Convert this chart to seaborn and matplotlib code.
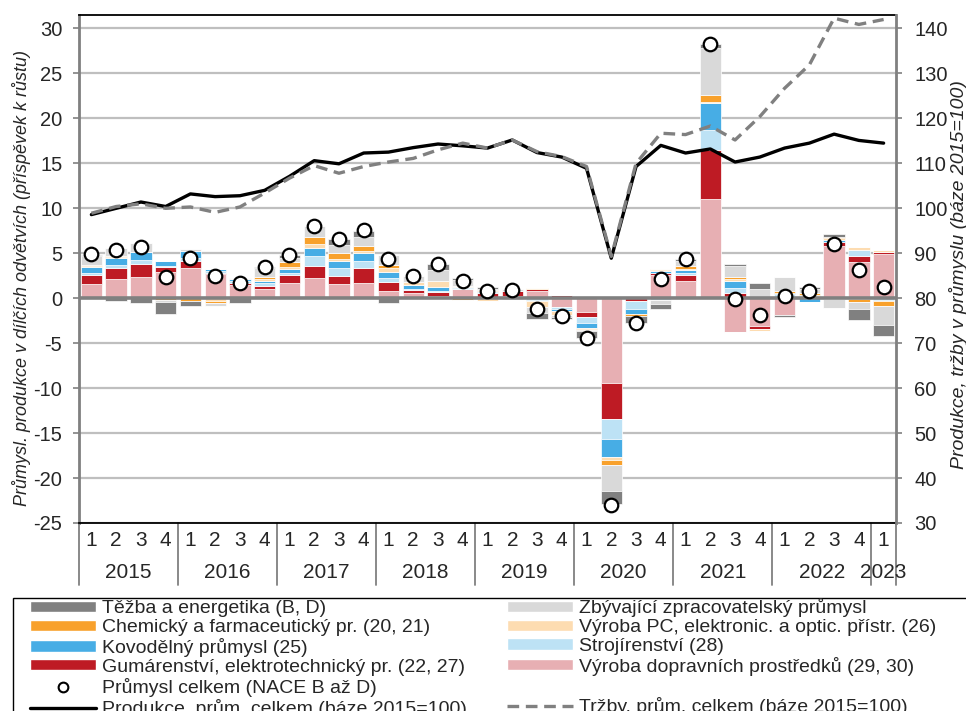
import matplotlib
matplotlib.use("Agg")
import matplotlib.pyplot as plt
import matplotlib.transforms as mtransforms
from matplotlib.patches import Patch, Rectangle
from matplotlib.lines import Line2D
import seaborn as sns
import numpy as np

# quarters 2015Q1 .. 2023Q1
years = ["2015", "2016", "2017", "2018", "2019", "2020", "2021", "2022", "2023"]
quarters = ["1", "2", "3", "4"] * 8 + ["1"]

# contributions to growth (p.p.), stacked bottom -> top
doprava = [1.55, 2.1, 2.4, 2.93, 3.4, 2.7, 1.48, 1.05, 1.74, 2.2, 1.63, 1.7, 0.8, 0.55, 0.3, 1.0,
           0.15, 0.2, 0.8, -1.0, -1.52, -9.44, 0.05, 2.55, 1.93, 11.0, -3.74, -3.1, -1.9, 0.05,
           5.85, 4.04, 4.9]
gumarenstvi = [1.0, 1.26, 1.37, 0.55, 0.74, 0.15, 0.22, 0.35, 0.81, 1.4, 0.8, 1.63, 0.96, 0.33,
               0.44, 0.05, 0.4, 0.6, 0.2, 0.35, -0.52, -4.0, -0.35, 0.3, 0.63, 5.48, 0.55,
               -0.37, 0.0, 0.2, 0.45, 0.67, 0.2]
strojirenstvi = [0.3, 0.33, 0.44, 0.07, 0.3, 0.15, 0.22, 0.3, 0.26, 1.07, 0.9, 0.8, 0.48, 0.19,
                 0.1, 0.1, 0.1, 0.0, -0.18, -0.15, -0.74, -2.22, -0.85, -0.25, 0.22, 2.19, 0.63,
                 0.0, 0.45, 0.05, -0.1, 0.66, -0.25]
kovodelny = [0.65, 0.74, 0.9, 0.6, 0.8, 0.2, 0.18, 0.25, 0.44, 0.96, 0.85, 0.9, 0.7, 0.44, 0.4,
             0.1, 0.15, 0.0, -0.15, -0.3, -0.55, -2.04, -0.5, 0.15, 0.37, 3.0, 0.74, 0.0, 0.1,
             -0.4, 0.15, -0.1, -0.05]
vyroba_pc = [0.1, 0.15, 0.0, 0.0, 0.0, -0.3, 0.0, 0.2, 0.19, 0.37, 0.2, 0.2, 0.37, 0.26, 0.67,
             0.15, -0.35, 0.0, -0.6, -0.4, -0.1, -0.26, -0.05, 0.1, 0.15, 0.15, 0.18, -0.2,
             0.05, 0.1, 0.2, 0.37, 0.3]
chemicky = [0.05, 0.15, 0.0, -0.25, -0.3, -0.2, 0.0, 0.2, 0.55, 0.81, 0.6, 0.56, 0.37, 0.0, 0.0,
            -0.2, 0.1, 0.0, 0.15, 0.0, -0.1, -0.55, -0.2, 0.2, 0.3, 0.74, 0.3, 0.05, 0.2, 0.15,
            0.15, -0.3, -0.6]
zbyvajici = [1.1, 0.9, 1.07, -0.15, 0.25, -0.35, 0.2, 1.0, 0.52, 1.25, 0.9, 1.0, 1.1, 0.7, 1.2,
             0.6, 0.15, 0.25, -0.74, -0.2, -0.15, -2.9, -0.05, -0.35, 0.52, 5.3, 1.18, 0.95,
             1.57, 0.5, -0.95, -0.75, -2.1]
tezba = [0.1, -0.3, -0.55, -1.3, -0.6, 0.07, -0.55, 0.15, 0.3, 0.0, 0.74, 0.74, -0.5, 0.0, 0.67,
         0.2, 0.15, -0.1, -0.63, -0.3, -0.74, -1.48, -0.75, -0.6, 0.22, 0.44, 0.18, 0.74, -0.2,
         0.2, 0.3, -1.3, -1.15]
prumysl_celkem = [4.9, 5.33, 5.67, 2.4, 4.5, 2.5, 1.67, 3.5, 4.78, 8.04, 6.63, 7.55, 4.33, 2.48,
                  3.78, 1.9, 0.85, 0.95, -1.15, -1.96, -4.37, -22.96, -2.78, 2.18, 4.33, 28.3,
                  -0.07, -1.89, 0.27, 0.8, 6.07, 3.15, 1.3]

# indices (2015=100)
produkce = [98.6, 100.0, 101.4, 100.4, 103.2, 102.6, 102.8, 104.0, 107.1, 110.6, 109.9, 112.3,
            112.5, 113.5, 114.3, 113.9, 113.4, 115.2, 112.4, 111.4, 108.9, 88.9, 109.3, 114.0,
            112.3, 113.2, 110.3, 111.4, 113.4, 114.5, 116.5, 115.1, 114.5]
trzby = [98.9, 100.4, 101.0, 100.0, 100.3, 99.1, 100.3, 103.4, 106.7, 109.5, 107.8, 109.3, 110.3,
         111.1, 113.0, 114.5, 113.4, 115.2, 112.6, 111.5, 109.3, 89.3, 110.0, 116.7, 116.4,
         118.3, 115.2, 120.4, 126.7, 131.9, 142.3, 140.9, 142.0]

series = [
    ("Výroba dopravních prostředků (29, 30)", doprava, "#e7afb3"),
    ("Gumárenství, elektrotechnický pr. (22, 27)", gumarenstvi, "#be1b24"),
    ("Strojírenství (28)", strojirenstvi, "#bde2f5"),
    ("Kovodělný průmysl (25)", kovodelny, "#47ade5"),
    ("Výroba PC, elektronic. a optic. přístr. (26)", vyroba_pc, "#fddcb1"),
    ("Chemický a farmaceutický pr. (20, 21)", chemicky, "#f8a12c"),
    ("Zbývající zpracovatelský průmysl", zbyvajici, "#d9d9d9"),
    ("Těžba a energetika (B, D)", tezba, "#808080"),
]

sns.set_style("white")
plt.rcParams["font.family"] = ["Liberation Sans", "DejaVu Sans"]
plt.rcParams["axes.unicode_minus"] = False

W, H = 966, 711
fig = plt.figure(figsize=(W / 100, H / 100), dpi=100)
ax = fig.add_axes([79 / W, 1 - 523 / H, (896 - 79) / W, (523 - 15) / H])
ax2 = ax.twinx()

x = np.arange(len(quarters))
pos_bottom = np.zeros(len(x))
neg_bottom = np.zeros(len(x))
for name, vals, col in series:
    v = np.array(vals)
    pos = np.where(v > 0, v, 0)
    neg = np.where(v < 0, v, 0)
    ax.bar(x, pos, bottom=pos_bottom, width=0.86, color=col, edgecolor="white", lw=0.5, zorder=2)
    ax.bar(x, neg, bottom=neg_bottom, width=0.86, color=col, edgecolor="white", lw=0.5, zorder=2)
    pos_bottom += pos
    neg_bottom += neg

yt = np.arange(-25, 31, 5)
for t in yt:
    if t != 0:
        ax.axhline(t, color="#bfbfbf", lw=1.6, zorder=0)
ax.axhline(0, color="#808080", lw=2.6, zorder=3)

sns.scatterplot(x=x, y=prumysl_celkem, ax=ax, marker="o", s=95, color="white",
                edgecolor="black", linewidth=1.6, zorder=6)

sns.lineplot(x=x, y=produkce, ax=ax2, color="black", lw=2.4)
sns.lineplot(x=x, y=trzby, ax=ax2, color="#808080", lw=2.4, linestyle=(0, (3.5, 2)))

ax.set_xlim(-0.5, 32.5)
ax.set_ylim(-25, 31.5)
ax2.set_ylim(30, 143)
ax.set_yticks(yt)
ax2.set_yticks(np.arange(30, 141, 10))
ax.set_xticks([])
ax2.set_xticks([])
ax.set_ylabel("")
ax2.set_ylabel("")

ax.tick_params(axis="y", which="both", left=True, direction="out", length=4, width=1.2,
               color="#808080", labelsize=14.5, pad=8)
ax2.tick_params(axis="y", which="both", right=True, direction="out", length=4, width=1.2,
                color="#808080", labelsize=14.5, pad=9)

ax.spines["left"].set_color("#808080")
ax.spines["left"].set_linewidth(2)
ax.spines["right"].set_visible(False)
ax.spines["top"].set_color("black")
ax.spines["top"].set_linewidth(1.3)
ax.spines["bottom"].set_color("black")
ax.spines["bottom"].set_linewidth(1.3)
for s in ["left", "top", "bottom"]:
    ax2.spines[s].set_visible(False)
ax2.spines["right"].set_color("#808080")
ax2.spines["right"].set_linewidth(2)

# category axis (quarters + years)
trans = mtransforms.blended_transform_factory(ax.transData, ax.transAxes)
axh = 523 - 15
for i, q in enumerate(quarters):
    ax.text(i, -17 / axh, q, transform=trans, ha="center", va="center", fontsize=15)
for k, yr in enumerate(years):
    idx = [i for i in range(len(quarters)) if i // 4 == k]
    ax.text(np.mean(idx), -50 / axh, yr, transform=trans, ha="center", va="center", fontsize=15)
seps = [-0.5 + 4 * k for k in range(9)] + [32.5]
for sx in seps:
    ax.plot([sx, sx], [0, -62 / axh], transform=trans, clip_on=False, color="#808080", lw=1.3)

fig.text(22 / W, 1 - 278 / H, "Průmysl. produkce v dílčích odvětvích (příspěvek k růstu)",
         rotation=90, ha="center", va="center", fontsize=13, style="italic")
fig.text(958 / W, 1 - 275 / H, "Produkce, tržby v průmyslu (báze 2015=100)",
         rotation=90, ha="center", va="center", fontsize=14, style="italic")

# legend (column-major for ncol=2), frame drawn separately
d = {name: col for name, _, col in series}
blank = Patch(facecolor="none", edgecolor="none")
col1 = ["Těžba a energetika (B, D)", "Chemický a farmaceutický pr. (20, 21)",
        "Kovodělný průmysl (25)", "Gumárenství, elektrotechnický pr. (22, 27)"]
col2 = ["Zbývající zpracovatelský průmysl", "Výroba PC, elektronic. a optic. přístr. (26)",
        "Strojírenství (28)", "Výroba dopravních prostředků (29, 30)"]
handles = [Patch(facecolor=d[n]) for n in col1]
handles += [Line2D([], [], marker="o", ls="none", mfc="white", mec="black", ms=7, mew=1.5),
            Line2D([], [], color="black", lw=2.4)]
handles += [Patch(facecolor=d[n]) for n in col2]
handles += [blank, Line2D([], [], color="#808080", lw=2.4, linestyle=(0, (3.5, 2)))]
labels = col1 + ["Průmysl celkem (NACE B až D)", "Produkce, prům. celkem (báze 2015=100)"] + \
    col2 + ["", "Tržby, prům. celkem (báze 2015=100)"]
fig.legend(handles, labels, ncol=2, loc="upper left",
           bbox_to_anchor=(30 / W, 1 - 598 / H), frameon=False,
           fontsize=14, handlelength=3.4, handleheight=0.5,
           labelspacing=0.1, columnspacing=2.05, borderpad=0.0, handletextpad=0.3,
           borderaxespad=0)
fig.patches.append(Rectangle((13 / W, -0.05), 1.0, 1 - 598 / H + 0.05, transform=fig.transFigure,
                             fill=False, edgecolor="black", lw=1.0))

fig.savefig("out.png", dpi=100)
